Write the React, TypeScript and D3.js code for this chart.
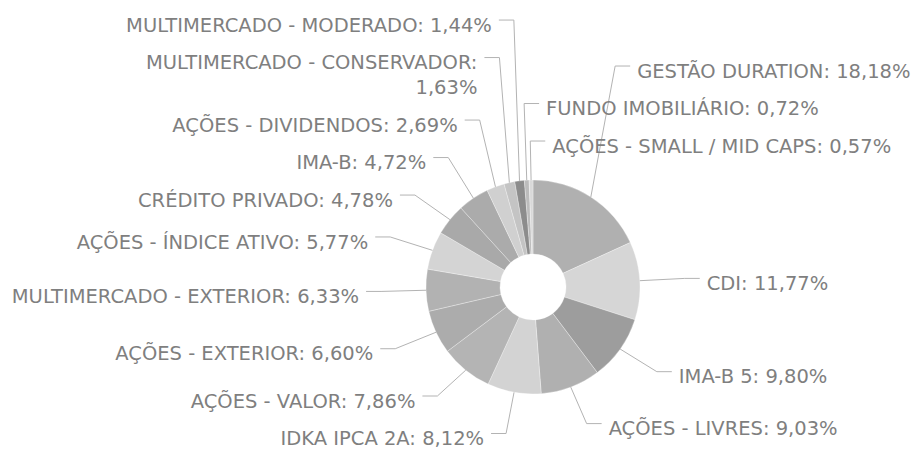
import React, { useEffect, useRef } from "react";
import * as d3 from "d3";

// fatias na ordem do gráfico (sentido horário a partir do topo)
const categories = [
  "GESTÃO DURATION",
  "CDI",
  "IMA-B 5",
  "AÇÕES - LIVRES",
  "IDKA IPCA 2A",
  "AÇÕES - VALOR",
  "AÇÕES - EXTERIOR",
  "MULTIMERCADO - EXTERIOR",
  "AÇÕES - ÍNDICE ATIVO",
  "CRÉDITO PRIVADO",
  "IMA-B",
  "AÇÕES - DIVIDENDOS",
  "MULTIMERCADO - CONSERVADOR",
  "MULTIMERCADO - MODERADO",
  "FUNDO IMOBILIÁRIO",
  "AÇÕES - SMALL / MID CAPS",
];
const shares = [
  18.18, 11.77, 9.8, 9.03, 8.12, 7.86, 6.6, 6.33, 5.77, 4.78, 4.72, 2.69, 1.63,
  1.44, 0.72, 0.57,
];
const grays = [
  "#b0b0b0", "#d6d6d6", "#9d9d9d", "#b0b0b0", "#d3d3d3", "#b4b4b4", "#acacac",
  "#b2b2b2", "#d4d4d4", "#a9a9a9", "#ababab", "#d0d0d0", "#c4c4c4", "#8c8c8c",
  "#bcbcbc", "#d9d9d9",
];

const W = 912;
const H = 453;
const cx = 533;
const cy = 287;
const outerR = 107;
const innerR = 33;
const labelRx = 152;
const labelRy = 146;
const tickLen = 15;
const textGap = 7;
const lineH = 25;
const boxPad = 12.5;
const maxLabelW = 380;
const font = "19.5px 'DejaVu Sans'";

type Lbl = {
  i: number;
  sin: number;
  cos: number;
  right: boolean;
  top: boolean;
  lines: string[];
  boxTop: number;
  h: number;
};

function App() {
  const ref = useRef<SVGSVGElement>(null);

  useEffect(() => {
    const svg = d3.select(ref.current);
    svg.selectAll("*").remove();

    const pie = d3.pie<number>().sort(null).value((d) => d);
    const arcs = pie(shares);
    const arc = d3
      .arc<d3.PieArcDatum<number>>()
      .innerRadius(innerR)
      .outerRadius(outerR);

    const g = svg.append("g").attr("transform", `translate(${cx},${cy})`);

    g.append("g")
      .selectAll("path")
      .data(arcs)
      .join("path")
      .attr("d", arc)
      .attr("fill", (d, i) => grays[i])
      .attr("stroke", "#ffffff")
      .attr("stroke-opacity", 0.5)
      .attr("stroke-width", 0.6);

    // medir texto para quebrar linhas longas
    const measure = g
      .append("text")
      .style("font", font)
      .attr("visibility", "hidden");
    const textW = (s: string) => {
      measure.text(s);
      return (measure.node() as SVGTextElement).getComputedTextLength();
    };
    const wrap = (s: string) => {
      const words = s.split(" ");
      const out: string[] = [];
      let cur = "";
      words.forEach((w) => {
        const next = cur ? cur + " " + w : w;
        if (cur && textW(next) > maxLabelW) {
          out.push(cur);
          cur = w;
        } else cur = next;
      });
      out.push(cur);
      return out;
    };

    const labels: Lbl[] = arcs.map((a, i) => {
      const mid = (a.startAngle + a.endAngle) / 2;
      const sin = Math.sin(mid);
      const cos = Math.cos(mid);
      const txt = `${categories[i]}: ${shares[i].toFixed(2).replace(".", ",")}%`;
      const lines = wrap(txt);
      const anchorY = -labelRy * cos;
      return {
        i,
        sin,
        cos,
        // rótulos quase no topo vão para a direita
        right: sin > 0 || (cos > 0 && sin > -0.1),
        top: cos >= 0,
        lines,
        boxTop: anchorY - 8,
        h: lines.length * lineH,
      };
    });
    measure.remove();

    // evitar sobreposição por quadrante
    const overlaps = (a: Lbl, b: Lbl) =>
      a.boxTop < b.boxTop + b.h + boxPad - 0.01 &&
      b.boxTop < a.boxTop + a.h + boxPad - 0.01;
    const place = (group: Lbl[], up: boolean) => {
      const placed: Lbl[] = [];
      group.forEach((l) => {
        for (let n = 0; n < 50; n++) {
          const hit = placed.find((p) => overlaps(l, p));
          if (!hit) break;
          l.boxTop = up
            ? hit.boxTop - boxPad - l.h
            : hit.boxTop + hit.h + boxPad;
        }
        placed.push(l);
      });
      if (!up) {
        // não deixar passar da borda de baixo
        let limit = H - cy - 2.5;
        [...group]
          .sort((a, b) => b.boxTop - a.boxTop)
          .forEach((l) => {
            if (l.boxTop + l.h > limit) l.boxTop = limit - l.h;
            limit = l.boxTop - boxPad;
          });
      }
    };
    const q = (right: boolean, top: boolean) =>
      labels.filter((l) => l.right === right && l.top === top);
    place(q(true, true).reverse(), true);
    place(q(true, false), false);
    place(q(false, true), true);
    place(q(false, false).reverse(), false);

    const lg = g.append("g");
    labels.forEach((l) => {
      const ax = labelRx * l.sin;
      const ty = l.boxTop + 8;
      const dir = l.right ? 1 : -1;
      lg.append("path")
        .attr(
          "d",
          d3.line()([
            [outerR * l.sin, -outerR * l.cos],
            [ax, ty],
            [ax + dir * tickLen, ty],
          ])
        )
        .attr("fill", "none")
        .attr("stroke", "#b3b3b3")
        .attr("stroke-width", 1);

      const t = lg
        .append("text")
        .attr("text-anchor", l.right ? "start" : "end")
        .style("font", font)
        .attr("fill", "#7f7f7f");
      l.lines.forEach((s, k) => {
        t.append("tspan")
          .attr("x", ax + dir * (tickLen + textGap))
          .attr("y", l.boxTop + lineH / 2 + k * lineH)
          .attr("dy", "0.36em")
          .text(s);
      });
    });
  }, []);

  return (
    <svg
      ref={ref}
      width={W}
      height={H}
      style={{ position: "absolute", left: 0, top: 0, background: "#ffffff" }}
    />
  );
}

export default App;
